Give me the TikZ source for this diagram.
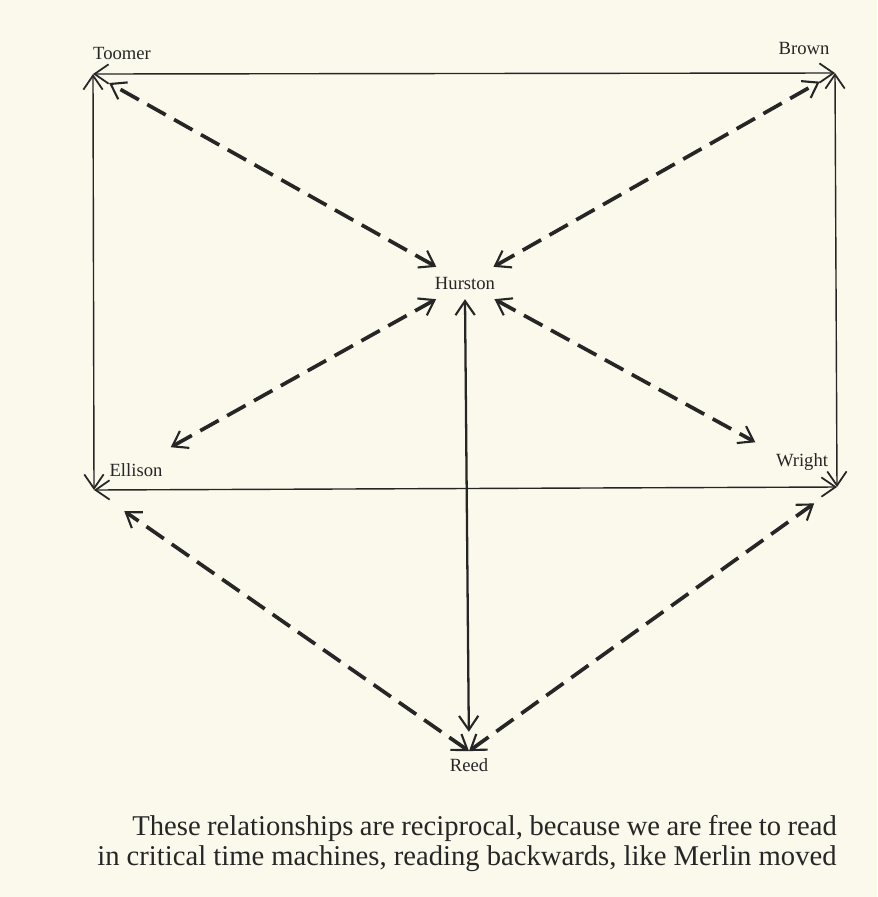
\documentclass[tikz,border=0pt]{standalone}
\usepackage{fontspec}
\setmainfont{Liberation Serif}
\usetikzlibrary{arrows.meta,positioning}
\definecolor{papier}{RGB}{251,249,236}
\definecolor{encre}{RGB}{38,38,38}
\tikzset{
  nom/.style={font=\fontsize{10.6pt}{12pt}\selectfont, text=encre, inner sep=1pt},
  texte/.style={font=\fontsize{16.3pt}{17pt}\selectfont, text=encre, inner sep=0pt, anchor=base west},
  pointe/.tip={Straight Barb[length=8pt,width=11pt,line width=1.2pt]},
  coin/.tip={Straight Barb[length=8pt,width=11pt,line width=1pt]},
  cadre/.style={draw=encre, line width=0.8pt, coin-coin},
  tirets/.style={draw=encre, line width=2.1pt, dash pattern=on 12pt off 5.5pt, pointe-pointe},
  plein/.style={draw=encre, line width=1.3pt, pointe-pointe}
}
\begin{document}
\begin{tikzpicture}[x=0.02cm, y=-0.02cm]
        % Fond de page
        \fill[papier] (0,0) rectangle (877,897);
        \useasboundingbox (0,0) rectangle (877,897);
        % Coins du rectangle
        \coordinate (tl) at (93,74);
        \coordinate (tr) at (835,73);
        \coordinate (bl) at (94,490);
        \coordinate (br) at (837,487);
        % Noms
        \node[nom] (toomer) at (122,53) {Toomer};
        \node[nom] (brown) at (804,48) {Brown};
        \node[nom] (ellison) at (136,470) {Ellison};
        \node[nom] (wright) at (802,462) {Wright};
        \node[nom, inner xsep=0pt, minimum height=18pt] (hurston) at (465,283) {Hurston};
        \node[nom, inner sep=4pt] (reed) at (469,765) {Reed};
        % Cadre
        \draw[cadre] (tl) -- (tr);
        \draw[cadre] (tl) -- (bl);
        \draw[cadre] (tr) -- (br);
        \draw[cadre] (bl) -- (br);
        % Relations
        \draw[tirets, shorten >=10.5pt] (hurston) -- (tl);
        \draw[tirets, shorten >=10pt] (hurston) -- (tr);
        \draw[tirets, shorten >=50pt] (hurston) -- (bl);
        \draw[tirets, shorten >=53pt] (hurston) -- (br);
        \draw[tirets, shorten >=21pt] (reed.north) -- (bl);
        \draw[tirets, shorten >=16pt] (reed.north) -- (br);
        \draw[plein, shorten >=11pt] (hurston.south) -- (reed.north);
        % Texte du bas
        \node[texte] (ligneA) at (132,835) {\makebox[401pt][s]{These relationships are reciprocal, because we are free to read}};
        \node[texte] (ligneB) at (97,865) {\makebox[420.7pt][s]{in critical time machines, reading backwards, like Merlin moved}};
    \end{tikzpicture}
\end{document}
